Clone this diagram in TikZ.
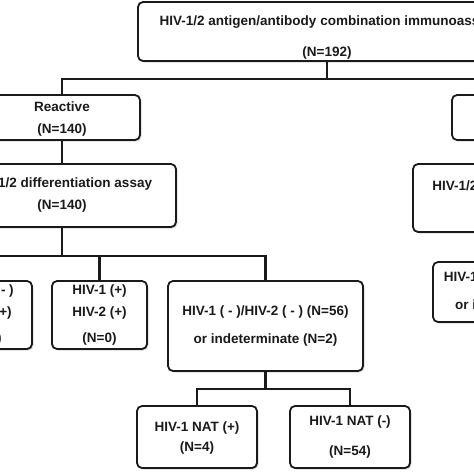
\documentclass[tikz,border=0pt]{standalone}
\usepackage{fontspec}
\setmainfont{Liberation Sans}
\usetikzlibrary{shadows}
\definecolor{ink}{HTML}{1A1A1A}

\begin{document}
\begin{tikzpicture}[
  x=1pt,y=-1pt,
  font=\fontsize{13.5}{22}\selectfont\bfseries,
  box/.style={draw=ink,line width=1.8pt,rounded corners=5pt,fill=white,align=center,inner sep=0pt,text=ink,
    drop shadow={shadow xshift=1.5pt,shadow yshift=-1.5pt,fill=black!30}},
  lnk/.style={draw=ink,line width=2.2pt},
]
\useasboundingbox (0,0) rectangle (474,474);
\clip (0,0) rectangle (474,474);

% screening and first split
\node[box,minimum width=378,minimum height=59] (top) at (327,31.5) {\rule{0pt}{22pt}HIV-1/2 antigen/antibody combination immunoassay\\[9pt](N=192)};
\node[box,minimum width=156,minimum height=45] (reactive) at (62,117.5) {\rule{0pt}{12pt}Reactive\\(N=140)};
\node[box,minimum width=156,minimum height=45] (nonreact) at (530,117.5) {Nonreactive\\(N=52)};

% differentiation
\node[box,minimum width=228,minimum height=63] (diff) at (62,195.5) {HIV-1/2 differentiation assay\\(N=140)};
\node[box,minimum width=219,minimum height=68] (diffr) at (522.5,198) {HIV-1/2 differentiation assay\\(N=52)};
\node[box,minimum width=95,minimum height=68] (single) at (-15.5,315) {HIV-1 ( - )\\HIV-2 (+)\\[4pt](N=0)};
\node[box,minimum width=95,minimum height=68] (dual) at (99.5,315) {HIV-1 (+)\\HIV-2 (+)\\[4pt](N=0)};
\node[box,minimum width=195,minimum height=90] (negind) at (265.5,326) {HIV-1 ( - )/HIV-2 ( - ) (N=56)\\[6pt]or indeterminate (N=2)};
\node[box,minimum width=188,minimum height=60] (negindr) at (527,292) {HIV-1 ( - )/HIV-2 ( - ) (N=52)\\[6pt]or indeterminate (N=0)};

% NAT
\node[box,minimum width=120,minimum height=62] (natpos) at (197,437) {\rule{0pt}{12pt}HIV-1 NAT (+)\\[-2pt](N=4)};
\node[box,minimum width=120,minimum height=62] (natneg) at (350,437) {HIV-1 NAT (-)\\[8pt](N=54)};

\draw[lnk] (top.south) -- ++(0,17) -| (reactive.north);
\draw[lnk] (top.south) -- ++(0,17) -| (nonreact.north);
\draw[lnk] (reactive) -- (diff);
\draw[lnk] (nonreact.south) -- (nonreact.south |- diffr.north);
\draw[lnk] (diff.south) -- ++(0,28) -| (single.north);
\draw[lnk] (diff.south) -- ++(0,28) -| (dual.north);
\draw[lnk] (diff.south) -- ++(0,28) -| (negind.north);
\draw[lnk] (diffr.south) -- (diffr.south |- negindr.north);
\draw[lnk] (negind.south) -- ++(0,17) -| (natpos.north);
\draw[lnk] (negind.south) -- ++(0,17) -| (natneg.north);
\end{tikzpicture}
\end{document}
